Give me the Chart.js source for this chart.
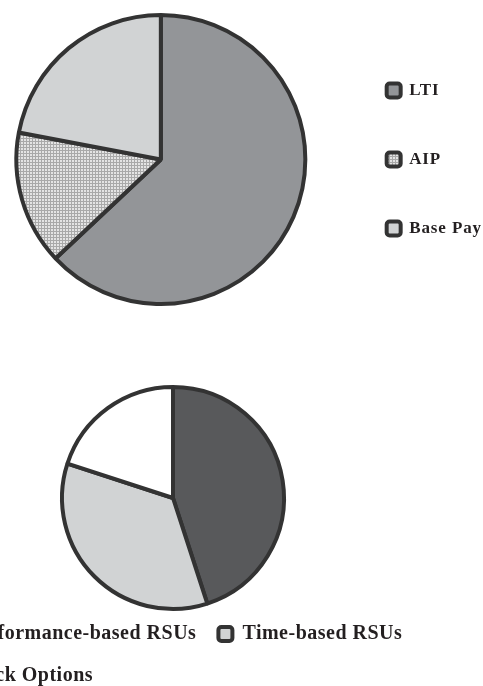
<!DOCTYPE html>
<html lang="en">
<head>
<meta charset="UTF-8">
<title>Pay mix</title>
<style>
  body {
    margin: 0;
    width: 483px;
    height: 686px;
    overflow: hidden;
    position: relative;
    background: #fff;
  }
  canvas { position: absolute; }
  #payMix { left: -13px; top: 0; }
  #ltiMix { left: -80px; top: 380px; }
</style>
</head>
<body>
<canvas id="payMix" width="505" height="319"></canvas>
<canvas id="ltiMix" width="506" height="316"></canvas>
<script src="https://cdn.jsdelivr.net/npm/chart.js"></script>
<script>
// data (percent of total)
const payLabels = ['LTI', 'AIP', 'Base Pay'];
const payValues = [63, 15, 22];

const ltiLabels = ['Performance-based RSUs', 'Time-based RSUs', 'Stock Options'];
const ltiValues = [45, 35, 20];

const edge = '#333333';
const ink = '#231f20';

// fine grid fill used for AIP
function hatch() {
  const c = document.createElement('canvas');
  c.width = c.height = 3;
  const g = c.getContext('2d');
  g.fillStyle = '#e4e4e4';
  g.fillRect(0, 0, 3, 3);
  g.fillStyle = '#a9a9a9';
  g.fillRect(0, 0, 3, 1);
  g.fillRect(0, 0, 1, 3);
  return g.createPattern(c, 'repeat');
}

// legend boxes with rounded corners
const baseLabels = (Chart.overrides.pie || Chart.overrides.doughnut).plugins.legend.labels.generateLabels;
function roundLabels(chart) {
  return baseLabels(chart).map(item => Object.assign(item, { borderRadius: 3 }));
}

// the legend text in the picture is a little spaced out
function spacing(px) {
  return {
    id: 'spacing',
    beforeUpdate(chart) { chart.ctx.letterSpacing = px; },
    beforeDraw(chart) { chart.ctx.letterSpacing = px; }
  };
}

function legendOpts(position, align, size, pad) {
  return {
    position: position,
    align: align,
    labels: {
      generateLabels: roundLabels,
      boxWidth: 14,
      boxHeight: 14,
      padding: pad,
      color: ink,
      font: { family: 'Liberation Serif', weight: 'bold', size: size }
    }
  };
}

new Chart(document.getElementById('payMix'), {
  type: 'pie',
  data: {
    labels: payLabels,
    datasets: [{
      data: payValues,
      backgroundColor: ['#939598', hatch(), '#d1d3d4'],
      borderColor: edge,
      borderWidth: 4,
      radius: 144.5,
      clip: false
    }]
  },
  plugins: [spacing('0.9px')],
  options: {
    responsive: false,
    animation: false,
    events: [],
    plugins: {
      legend: legendOpts('right', 'center', 17, 52),
      tooltip: { enabled: false }
    }
  }
});

new Chart(document.getElementById('ltiMix'), {
  type: 'pie',
  data: {
    labels: ltiLabels,
    datasets: [{
      data: ltiValues,
      backgroundColor: ['#58595b', '#d1d3d4', '#ffffff'],
      borderColor: edge,
      borderWidth: 4,
      radius: 111,
      clip: false
    }]
  },
  plugins: [spacing('0.5px')],
  options: {
    responsive: false,
    animation: false,
    events: [],
    layout: { padding: { top: 14 } },
    plugins: {
      legend: legendOpts('bottom', 'start', 20, 22),
      tooltip: { enabled: false }
    }
  }
});
</script>
</body>
</html>
